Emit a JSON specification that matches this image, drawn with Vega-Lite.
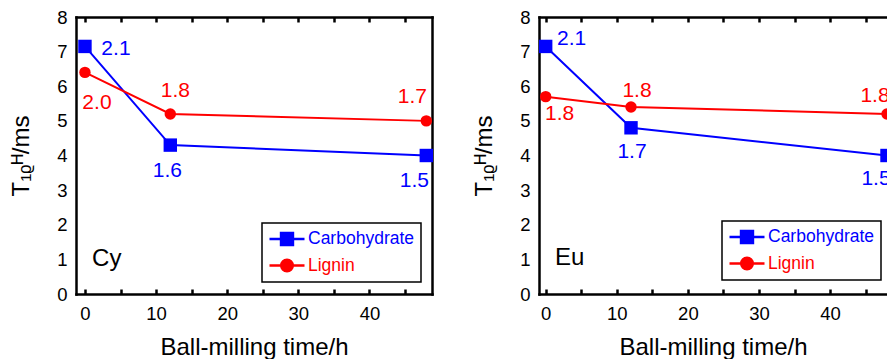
{
  "$schema": "https://vega.github.io/schema/vega-lite/v6.json",
  "padding": {"left": 9, "top": 8, "right": 0, "bottom": 0},
  "spacing": 38,
  "resolve": {"scale": {"color": "independent"}, "legend": {"color": "independent"}},
  "config": {
    "font": "Liberation Sans",
    "view": {"stroke": null},
    "axis": {"grid": false, "labelColor": "black", "titleColor": "black", "titleFontWeight": "normal", "labelFlush": false, "domainColor": "black", "domainWidth": 2.5, "domainCap": "square", "tickColor": "black", "tickWidth": 2.5}
  },
  "datasets": {
    "cy": [
      {"time": 0, "value": 7.15, "series": "Carbohydrate", "label": "2.1"},
      {"time": 12, "value": 4.3, "series": "Carbohydrate", "label": "1.6"},
      {"time": 48, "value": 4.0, "series": "Carbohydrate", "label": "1.5"},
      {"time": 0, "value": 6.4, "series": "Lignin", "label": "2.0"},
      {"time": 12, "value": 5.2, "series": "Lignin", "label": "1.8"},
      {"time": 48, "value": 5.0, "series": "Lignin", "label": "1.7"}
    ],
    "eu": [
      {"time": 0, "value": 7.15, "series": "Carbohydrate", "label": "2.1"},
      {"time": 12, "value": 4.8, "series": "Carbohydrate", "label": "1.7"},
      {"time": 48, "value": 4.0, "series": "Carbohydrate", "label": "1.5"},
      {"time": 0, "value": 5.7, "series": "Lignin", "label": "1.8"},
      {"time": 12, "value": 5.4, "series": "Lignin", "label": "1.8"},
      {"time": 48, "value": 5.2, "series": "Lignin", "label": "1.8"}
    ]
  },
  "hconcat": [
    {
      "width": 356,
      "height": 277,
      "data": {"name": "cy"},
      "resolve": {"axis": {"x": "independent", "y": "independent"}},
      "layer": [
        {
          "mark": {"type": "line", "strokeWidth": 2},
          "encoding": {
            "x": {"field": "time", "type": "quantitative", "scale": {"domain": [-1.26, 48.8], "nice": false, "zero": false},
              "axis": {"orient": "bottom", "values": [0, 5, 10, 15, 20, 25, 30, 35, 40, 45], "labelExpr": "datum.value % 10 === 0 ? datum.label : ''", "tickSize": -5, "labelPadding": 15, "labelFontSize": 18.5, "title": "Ball-milling time/h", "titleFontSize": 24, "titlePadding": 13}},
            "y": {"field": "value", "type": "quantitative", "scale": {"domain": [0, 8], "nice": false},
              "axis": {"orient": "left", "values": [0, 1, 2, 3, 4, 5, 6, 7, 8], "ticks": false, "labelPadding": 9, "labelFontSize": 18.5, "title": "T₁ᵨᴴ/ms", "titleFontSize": 24, "titlePadding": 23}},
            "color": {"field": "series", "type": "nominal", "scale": {"domain": ["Carbohydrate", "Lignin"], "range": ["#0000ff", "#ff0000"]},
              "legend": {"orient": "none", "legendX": 186, "legendY": 206, "title": null, "padding": 6, "labelFontSize": 17.5, "labelOffset": 2, "symbolSize": 1225, "clipHeight": 20, "rowPadding": 6.5,
                "encode": {
                  "legend": {"update": {"stroke": {"value": "black"}, "strokeWidth": {"value": 1.5}}},
                  "symbols": {"update": {
                    "shape": {"signal": "datum.value === 'Carbohydrate' ? 'M-1,0H1M-0.34,-0.34H0.34V0.34H-0.34Z' : 'M-1,0H1M0.33,0A0.33,0.33,0,1,1,-0.33,0A0.33,0.33,0,1,1,0.33,0Z'"},
                    "fill": {"signal": "datum.value === 'Carbohydrate' ? '#0000ff' : '#ff0000'"},
                    "stroke": {"signal": "datum.value === 'Carbohydrate' ? '#0000ff' : '#ff0000'"},
                    "size": {"value": 1225},
                    "fillOpacity": {"value": 1}, "opacity": {"value": 1}, "strokeWidth": {"value": 2.5}}},
                  "labels": {"update": {"fill": {"signal": "datum.value === 'Carbohydrate' ? '#0000ff' : '#ff0000'"}}}
                }}}
          }
        },
        {
          "transform": [{"filter": "datum.series === 'Carbohydrate'"}],
          "mark": {"type": "point", "filled": true, "opacity": 1, "shape": "square", "size": 180},
          "encoding": {
            "x": {"field": "time", "type": "quantitative", "axis": {"orient": "top", "values": [0, 5, 10, 15, 20, 25, 30, 35, 40, 45], "labels": false, "tickSize": -5, "title": null}},
            "y": {"field": "value", "type": "quantitative", "axis": {"orient": "right", "labels": false, "ticks": false, "title": null}},
            "color": {"field": "series", "type": "nominal"}
          }
        },
        {
          "transform": [{"filter": "datum.series === 'Lignin'"}],
          "mark": {"type": "point", "filled": true, "opacity": 1, "shape": "circle", "size": 130},
          "encoding": {
            "x": {"field": "time", "type": "quantitative", "axis": null},
            "y": {"field": "value", "type": "quantitative", "axis": null},
            "color": {"field": "series", "type": "nominal"}
          }
        },
        {
          "transform": [{"filter": "datum.series === 'Carbohydrate' && datum.time === 0"}],
          "mark": {"type": "text", "align": "center", "baseline": "middle", "dx": 31, "dy": 3, "fontSize": 21, "color": "#0000ff"},
          "encoding": {"x": {"field": "time", "type": "quantitative", "axis": null}, "y": {"field": "value", "type": "quantitative", "axis": null}, "text": {"field": "label"}}
        },
        {
          "transform": [{"filter": "datum.series === 'Carbohydrate' && datum.time === 12"}],
          "mark": {"type": "text", "align": "center", "baseline": "middle", "dx": -3, "dy": 26, "fontSize": 21, "color": "#0000ff"},
          "encoding": {"x": {"field": "time", "type": "quantitative", "axis": null}, "y": {"field": "value", "type": "quantitative", "axis": null}, "text": {"field": "label"}}
        },
        {
          "transform": [{"filter": "datum.series === 'Carbohydrate' && datum.time === 48"}],
          "mark": {"type": "text", "align": "center", "baseline": "middle", "dx": -12, "dy": 25, "fontSize": 21, "color": "#0000ff"},
          "encoding": {"x": {"field": "time", "type": "quantitative", "axis": null}, "y": {"field": "value", "type": "quantitative", "axis": null}, "text": {"field": "label"}}
        },
        {
          "transform": [{"filter": "datum.series === 'Lignin' && datum.time === 0"}],
          "mark": {"type": "text", "align": "center", "baseline": "middle", "dx": 12, "dy": 31, "fontSize": 21, "color": "#ff0000"},
          "encoding": {"x": {"field": "time", "type": "quantitative", "axis": null}, "y": {"field": "value", "type": "quantitative", "axis": null}, "text": {"field": "label"}}
        },
        {
          "transform": [{"filter": "datum.series === 'Lignin' && datum.time === 12"}],
          "mark": {"type": "text", "align": "center", "baseline": "middle", "dx": 5, "dy": -23, "fontSize": 21, "color": "#ff0000"},
          "encoding": {"x": {"field": "time", "type": "quantitative", "axis": null}, "y": {"field": "value", "type": "quantitative", "axis": null}, "text": {"field": "label"}}
        },
        {
          "transform": [{"filter": "datum.series === 'Lignin' && datum.time === 48"}],
          "mark": {"type": "text", "align": "center", "baseline": "middle", "dx": -14, "dy": -24, "fontSize": 21, "color": "#ff0000"},
          "encoding": {"x": {"field": "time", "type": "quantitative", "axis": null}, "y": {"field": "value", "type": "quantitative", "axis": null}, "text": {"field": "label"}}
        },
        {
          "data": {"values": [{"panel": "Cy"}]},
          "mark": {"type": "text", "align": "left", "baseline": "middle", "fontSize": 24, "color": "black"},
          "encoding": {"x": {"datum": 1, "type": "quantitative", "axis": null}, "y": {"datum": 1, "type": "quantitative", "axis": null}, "text": {"field": "panel"}}
        }
      ]
    },
    {
      "width": 348,
      "height": 277,
      "data": {"name": "eu"},
      "resolve": {"axis": {"x": "independent", "y": "independent"}},
      "layer": [
        {
          "mark": {"type": "line", "strokeWidth": 2, "clip": true},
          "encoding": {
            "x": {"field": "time", "type": "quantitative", "scale": {"domain": [-0.94, 48.0], "nice": false, "zero": false},
              "axis": {"orient": "bottom", "values": [0, 5, 10, 15, 20, 25, 30, 35, 40, 45], "labelExpr": "datum.value % 10 === 0 ? datum.label : ''", "tickSize": -5, "labelPadding": 15, "labelFontSize": 18.5, "title": "Ball-milling time/h", "titleFontSize": 24, "titlePadding": 13}},
            "y": {"field": "value", "type": "quantitative", "scale": {"domain": [0, 8], "nice": false},
              "axis": {"orient": "left", "values": [0, 1, 2, 3, 4, 5, 6, 7, 8], "ticks": false, "labelPadding": 9, "labelFontSize": 18.5, "title": "T₁ᵨᴴ/ms", "titleFontSize": 24, "titlePadding": 23}},
            "color": {"field": "series", "type": "nominal", "scale": {"domain": ["Carbohydrate", "Lignin"], "range": ["#0000ff", "#ff0000"]},
              "legend": {"orient": "none", "legendX": 183, "legendY": 204, "title": null, "padding": 6, "labelFontSize": 17.5, "labelOffset": 2, "symbolSize": 1225, "clipHeight": 20, "rowPadding": 6.5,
                "encode": {
                  "legend": {"update": {"stroke": {"value": "black"}, "strokeWidth": {"value": 1.5}}},
                  "symbols": {"update": {
                    "shape": {"signal": "datum.value === 'Carbohydrate' ? 'M-1,0H1M-0.34,-0.34H0.34V0.34H-0.34Z' : 'M-1,0H1M0.33,0A0.33,0.33,0,1,1,-0.33,0A0.33,0.33,0,1,1,0.33,0Z'"},
                    "fill": {"signal": "datum.value === 'Carbohydrate' ? '#0000ff' : '#ff0000'"},
                    "stroke": {"signal": "datum.value === 'Carbohydrate' ? '#0000ff' : '#ff0000'"},
                    "size": {"value": 1225},
                    "fillOpacity": {"value": 1}, "opacity": {"value": 1}, "strokeWidth": {"value": 2.5}}},
                  "labels": {"update": {"fill": {"signal": "datum.value === 'Carbohydrate' ? '#0000ff' : '#ff0000'"}}}
                }}}
          }
        },
        {
          "transform": [{"filter": "datum.series === 'Carbohydrate'"}],
          "mark": {"type": "point", "filled": true, "opacity": 1, "shape": "square", "size": 180, "clip": true},
          "encoding": {
            "x": {"field": "time", "type": "quantitative", "axis": {"orient": "top", "values": [0, 5, 10, 15, 20, 25, 30, 35, 40, 45], "labels": false, "tickSize": -5, "title": null}},
            "y": {"field": "value", "type": "quantitative", "axis": null},
            "color": {"field": "series", "type": "nominal"}
          }
        },
        {
          "transform": [{"filter": "datum.series === 'Lignin'"}],
          "mark": {"type": "point", "filled": true, "opacity": 1, "shape": "circle", "size": 130, "clip": true},
          "encoding": {
            "x": {"field": "time", "type": "quantitative", "axis": null},
            "y": {"field": "value", "type": "quantitative", "axis": null},
            "color": {"field": "series", "type": "nominal"}
          }
        },
        {
          "transform": [{"filter": "datum.series === 'Carbohydrate' && datum.time === 0"}],
          "mark": {"type": "text", "align": "center", "baseline": "middle", "dx": 26, "dy": -7, "fontSize": 21, "color": "#0000ff", "clip": true},
          "encoding": {"x": {"field": "time", "type": "quantitative", "axis": null}, "y": {"field": "value", "type": "quantitative", "axis": null}, "text": {"field": "label"}}
        },
        {
          "transform": [{"filter": "datum.series === 'Carbohydrate' && datum.time === 12"}],
          "mark": {"type": "text", "align": "center", "baseline": "middle", "dx": 1, "dy": 24, "fontSize": 21, "color": "#0000ff", "clip": true},
          "encoding": {"x": {"field": "time", "type": "quantitative", "axis": null}, "y": {"field": "value", "type": "quantitative", "axis": null}, "text": {"field": "label"}}
        },
        {
          "transform": [{"filter": "datum.series === 'Carbohydrate' && datum.time === 48"}],
          "mark": {"type": "text", "align": "center", "baseline": "middle", "dx": -11, "dy": 23, "fontSize": 21, "color": "#0000ff", "clip": true},
          "encoding": {"x": {"field": "time", "type": "quantitative", "axis": null}, "y": {"field": "value", "type": "quantitative", "axis": null}, "text": {"field": "label"}}
        },
        {
          "transform": [{"filter": "datum.series === 'Lignin' && datum.time === 0"}],
          "mark": {"type": "text", "align": "center", "baseline": "middle", "dx": 14, "dy": 17, "fontSize": 21, "color": "#ff0000", "clip": true},
          "encoding": {"x": {"field": "time", "type": "quantitative", "axis": null}, "y": {"field": "value", "type": "quantitative", "axis": null}, "text": {"field": "label"}}
        },
        {
          "transform": [{"filter": "datum.series === 'Lignin' && datum.time === 12"}],
          "mark": {"type": "text", "align": "center", "baseline": "middle", "dx": 6, "dy": -16, "fontSize": 21, "color": "#ff0000", "clip": true},
          "encoding": {"x": {"field": "time", "type": "quantitative", "axis": null}, "y": {"field": "value", "type": "quantitative", "axis": null}, "text": {"field": "label"}}
        },
        {
          "transform": [{"filter": "datum.series === 'Lignin' && datum.time === 48"}],
          "mark": {"type": "text", "align": "center", "baseline": "middle", "dx": -12, "dy": -18, "fontSize": 21, "color": "#ff0000", "clip": true},
          "encoding": {"x": {"field": "time", "type": "quantitative", "axis": null}, "y": {"field": "value", "type": "quantitative", "axis": null}, "text": {"field": "label"}}
        },
        {
          "data": {"values": [{"panel": "Eu"}]},
          "mark": {"type": "text", "align": "left", "baseline": "middle", "fontSize": 24, "color": "black"},
          "encoding": {"x": {"datum": 1.3, "type": "quantitative", "axis": null}, "y": {"datum": 1.05, "type": "quantitative", "axis": null}, "text": {"field": "panel"}}
        }
      ]
    }
  ]
}
